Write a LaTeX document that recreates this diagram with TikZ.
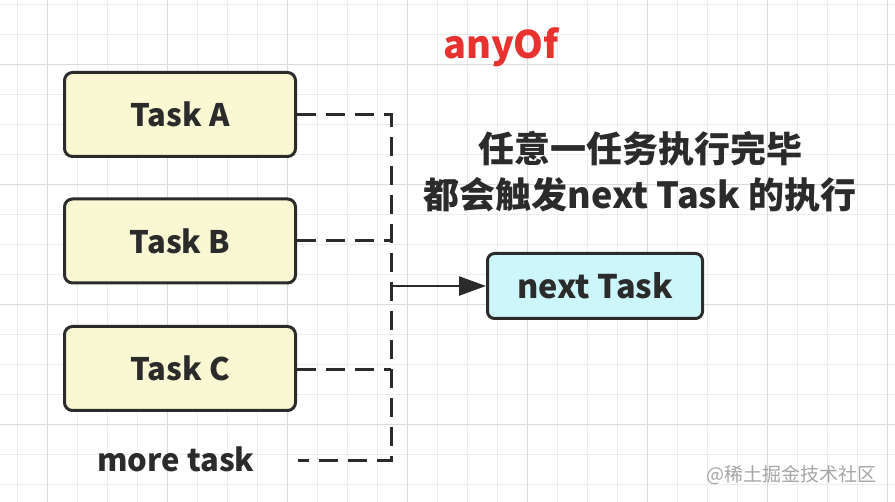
\documentclass[tikz,border=0pt]{standalone}
\usepackage{fontspec}
\setmainfont{Noto Sans CJK SC}
\usetikzlibrary{arrows.meta}
\definecolor{gridminor}{HTML}{ECECEC}
\definecolor{gridmajor}{HTML}{DADADA}
\definecolor{taskfill}{HTML}{FAF8D2}
\definecolor{nextfill}{HTML}{CDF6FA}
\definecolor{inkc}{HTML}{2B2B2B}
\definecolor{titlered}{HTML}{E8322F}
\definecolor{wmgray}{HTML}{A5A5A5}
\begin{document}
\begin{tikzpicture}[x=1pt,y=-1pt,
  taskbox/.style={draw=inkc, line width=3pt, rounded corners=8pt, fill=taskfill,
    minimum width=231pt, minimum height=84pt, inner sep=0pt,
    font=\fontsize{31}{36}\selectfont\bfseries, text=inkc},
  nextbox/.style={draw=inkc, line width=3pt, rounded corners=7pt, fill=nextfill,
    minimum width=215pt, minimum height=65pt, inner sep=0pt,
    font=\fontsize{32.5}{38}\selectfont\bfseries, text=inkc},
  dashline/.style={draw=inkc, line width=3pt, dash pattern=on 19pt off 10pt},
  solidarrow/.style={draw=inkc, line width=2.5pt, -{Triangle[length=27pt,width=19pt]}},
]
\useasboundingbox (0,0) rectangle (895,502);
\fill[white] (0,0) rectangle (895,502);
% grid
\foreach \x in {17,47,...,895} \draw[gridminor, line width=1pt] (\x,0) -- (\x,502);
\foreach \y in {5,35,...,502} \draw[gridminor, line width=1pt] (0,\y) -- (895,\y);
\foreach \x in {47,167,...,895} \draw[gridmajor, line width=1pt] (\x,0) -- (\x,502);
\foreach \y in {65,185,...,502} \draw[gridmajor, line width=1pt] (0,\y) -- (895,\y);

% title
\node[anchor=base, text=titlered, font=\fontsize{38}{44}\selectfont\bfseries] (title) at (501,59) {anyOf};

% tasks
\node[taskbox] (taskA) at (180,114.5) {\raisebox{-2pt}{Task A}};
\node[taskbox] (taskB) at (180,241) {\raisebox{-2pt}{Task B}};
\node[taskbox] (taskC) at (180,368.5) {\raisebox{-2pt}{Task C}};
\node[anchor=base, font=\fontsize{31}{36}\selectfont\bfseries, text=inkc] (more) at (176,472) {more task};

\node[nextbox] (next) at (595,286) {\raisebox{-1pt}{next Task}};

% description
\node[align=center, font=\fontsize{36}{46}\selectfont\bfseries, text=inkc] (desc) at (640,172)
  {任意一任务执行完毕\\都会触发next Task 的执行};

% watermark
\node[anchor=east, text=wmgray, font=\fontsize{19}{22}\selectfont] (wm) at (880,475) {@稀土掘金技术社区};

% connectors
\coordinate (cornerTop) at (391,115);
\coordinate (cornerBot) at (391,461);
\coordinate (moreEnd) at (298,461);
\coordinate (jB) at (391,241);
\coordinate (jC) at (391,370);
\coordinate (jN) at (391,286);

\draw[dashline] (taskA.east |- cornerTop) -- (cornerTop) -- (cornerBot) -- (moreEnd);
\draw[dashline] (taskB.east) -- (jB);
\draw[dashline] (taskC.east |- jC) -- (jC);
\draw[solidarrow] (jN) -- (next.west);
\end{tikzpicture}
\end{document}
